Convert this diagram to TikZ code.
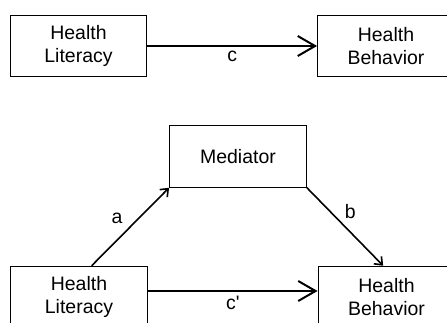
\documentclass[tikz,border=0pt]{standalone}
\usepackage{fontspec}
\setmainfont{Liberation Sans}
\usepackage{tikz}
\usetikzlibrary{arrows.meta,positioning}
\tikzset{>={Straight Barb[length=13pt,width=15pt]}}
\tikzset{
    varbox/.style={draw, line width=0.9pt, minimum width=102.5pt, minimum height=46pt,
        align=center, font=\fontsize{14.6}{17.5}\selectfont},
    path/.style={->, line width=1.5pt},
    short/.style={-{Straight Barb[length=5pt,width=8pt]}, line width=1.2pt},
    lbl/.style={font=\fontsize{14.6}{17.5}\selectfont}
}

\begin{document}
\begin{tikzpicture}[x=0.75pt, y=-0.75pt]
    \clip (0,0) rectangle (447,322);
    \useasboundingbox (0,0) rectangle (447,322);

    % total effect
    \coordinate (HL1) at (78.5,46);
    \coordinate (HB1) at (386,46);
    \node[varbox] (lit1) at (HL1) {Health\\Literacy};
    \node[varbox] (beh1) at (HB1) {Health\\Behavior};
    \draw [path] (lit1) -- (beh1) node [lbl, midway, below] {c};

    % mediated model
    \coordinate (M) at (238,156.5);
    \coordinate (HL2) at (79,297);
    \coordinate (HB2) at (386.5,297);
    \node[varbox] (med) at (M) {Mediator};
    \node[varbox] (lit2) at (HL2) {Health\\Literacy};
    \node[varbox] (beh2) at (HB2) {Health\\Behavior};

    \draw [short] ([xshift=9.5pt]lit2.north) -- (med.south west)
        node [lbl, midway, above left, xshift=-2pt, yshift=-2pt] {a};
    \draw [short] (med.south east) -- ([xshift=-2.5pt]beh2.north)
        node [lbl, midway, above right, xshift=-4pt, yshift=2pt] {b};
    \draw [path] (lit2.east |- 0,291) -- (beh2.west |- 0,291)
        node [lbl, midway, below] {c\textquotesingle};
\end{tikzpicture}
\end{document}
